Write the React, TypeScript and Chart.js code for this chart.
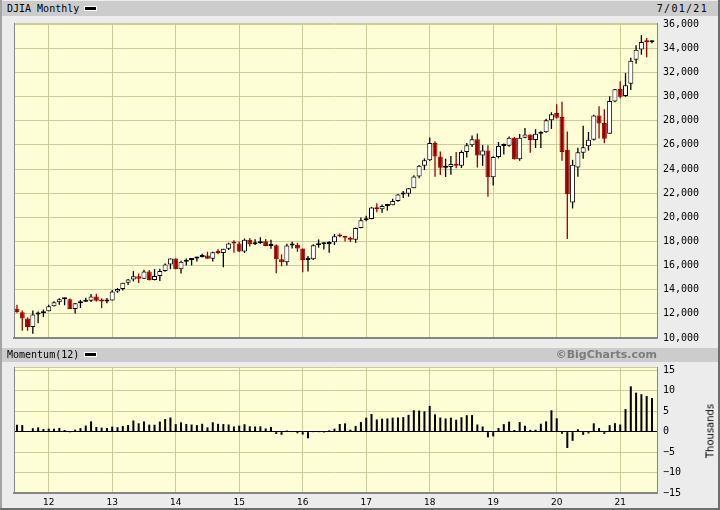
import React, { useEffect, useRef } from "react";
import { Chart, registerables } from "chart.js";

Chart.register(...registerables);

// ---------- DATA ----------
const months = [
  "2011-07", "2011-08", "2011-09", "2011-10", "2011-11", "2011-12",
  "2012-01", "2012-02", "2012-03", "2012-04", "2012-05", "2012-06", "2012-07", "2012-08", "2012-09", "2012-10", "2012-11", "2012-12",
  "2013-01", "2013-02", "2013-03", "2013-04", "2013-05", "2013-06", "2013-07", "2013-08", "2013-09", "2013-10", "2013-11", "2013-12",
  "2014-01", "2014-02", "2014-03", "2014-04", "2014-05", "2014-06", "2014-07", "2014-08", "2014-09", "2014-10", "2014-11", "2014-12",
  "2015-01", "2015-02", "2015-03", "2015-04", "2015-05", "2015-06", "2015-07", "2015-08", "2015-09", "2015-10", "2015-11", "2015-12",
  "2016-01", "2016-02", "2016-03", "2016-04", "2016-05", "2016-06", "2016-07", "2016-08", "2016-09", "2016-10", "2016-11", "2016-12",
  "2017-01", "2017-02", "2017-03", "2017-04", "2017-05", "2017-06", "2017-07", "2017-08", "2017-09", "2017-10", "2017-11", "2017-12",
  "2018-01", "2018-02", "2018-03", "2018-04", "2018-05", "2018-06", "2018-07", "2018-08", "2018-09", "2018-10", "2018-11", "2018-12",
  "2019-01", "2019-02", "2019-03", "2019-04", "2019-05", "2019-06", "2019-07", "2019-08", "2019-09", "2019-10", "2019-11", "2019-12",
  "2020-01", "2020-02", "2020-03", "2020-04", "2020-05", "2020-06", "2020-07", "2020-08", "2020-09", "2020-10", "2020-11", "2020-12",
  "2021-01", "2021-02", "2021-03", "2021-04", "2021-05", "2021-06", "2021-07",
];

const opens = [
  12414, 12143, 11614, 10913, 11955, 12046,
  12218, 12633, 12952, 13212, 13214, 12393, 12880, 13009, 13091, 13437, 13096, 13026,
  13104, 13861, 14054, 14579, 14840, 15116, 14910, 15500, 14810, 15130, 15546, 16086,
  16577, 15699, 16322, 16458, 16581, 16717, 16827, 16563, 17098, 17043, 17391, 17828,
  17823, 17165, 18133, 17776, 17841, 18011, 17620, 17690, 16528, 16285, 17664, 17720,
  17425, 16466, 16517, 17685, 17774, 17787, 17930, 18432, 18401, 18308, 18142, 19124,
  19763, 19864, 20812, 20663, 20941, 21009, 21350, 21891, 21948, 22405, 23377, 24272,
  24719, 26149, 25029, 24103, 24163, 24416, 24271, 25415, 25965, 26458, 25116, 25538,
  23327, 24999, 25916, 25929, 26593, 24815, 26600, 26864, 26403, 26917, 27046, 28051,
  28638, 28319, 25591, 21227, 24120, 25342, 25879, 26419, 28439, 27816, 26925, 29598,
  30627, 30054, 31065, 33054, 33904, 34584, 34507,
];

const highs = [
  12753, 12285, 11717, 12284, 12188, 12361,
  12756, 13055, 13290, 13338, 13279, 12898, 13159, 13331, 13653, 13662, 13290, 13305,
  13969, 14150, 14586, 14888, 15542, 15341, 15658, 15643, 15710, 15742, 16174, 16588,
  16589, 16398, 16589, 16632, 16736, 16978, 17152, 17153, 17350, 17395, 17895, 18103,
  18000, 18244, 18289, 18175, 18351, 18208, 18138, 17746, 16934, 17799, 17978, 17888,
  17425, 16795, 17773, 18168, 17935, 18016, 18622, 18668, 18450, 18399, 19152, 19988,
  20125, 20852, 21170, 21071, 21113, 21536, 21930, 22179, 22420, 23485, 24328, 24877,
  26617, 26307, 25449, 24858, 25087, 25402, 25547, 26167, 26770, 26951, 25980, 25981,
  25056, 26241, 26110, 26696, 26661, 26907, 27399, 26864, 27306, 27123, 28175, 28702,
  29374, 29568, 27102, 24764, 25758, 27580, 27072, 28502, 29199, 28958, 30025, 30637,
  31272, 31962, 33227, 34257, 35091, 34849, 34641,
];

const lows = [
  12087, 10604, 10597, 10362, 11232, 11735,
  12217, 12600, 12746, 12711, 12398, 12035, 12492, 12978, 12990, 13016, 12471, 12884,
  13104, 13744, 13937, 14398, 14688, 14551, 14910, 14760, 14777, 14719, 15484, 15703,
  15699, 15340, 16016, 16015, 16334, 16675, 16563, 16333, 16945, 15855, 17284, 17068,
  17136, 17037, 17585, 17699, 17797, 17597, 17399, 15370, 15942, 16013, 17410, 17139,
  15450, 15503, 16465, 17484, 17331, 17063, 17713, 18355, 17992, 17959, 17884, 19098,
  19677, 19831, 20413, 20379, 20554, 21009, 21279, 21600, 21709, 22405, 23243, 23922,
  24660, 23360, 23509, 23345, 23532, 24074, 24085, 24965, 25822, 24123, 24268, 21713,
  22638, 24883, 25208, 25850, 24780, 24680, 26550, 25339, 25743, 25744, 27004, 27325,
  28170, 24681, 18213, 20735, 23361, 24843, 25524, 26365, 26537, 26144, 26925, 29540,
  29856, 29981, 30547, 32731, 33474, 33271, 34418,
];

const closes = [
  12143, 11614, 10913, 11955, 12046, 12218,
  12633, 12952, 13212, 13214, 12393, 12880, 13009, 13091, 13437, 13096, 13026, 13104,
  13861, 14054, 14579, 14840, 15116, 14910, 15500, 14810, 15130, 15546, 16086, 16577,
  15699, 16322, 16458, 16581, 16717, 16827, 16563, 17098, 17043, 17391, 17828, 17823,
  17165, 18133, 17776, 17841, 18011, 17620, 17690, 16528, 16285, 17664, 17720, 17425,
  16466, 16517, 17685, 17774, 17787, 17930, 18432, 18401, 18308, 18142, 19124, 19763,
  19864, 20812, 20663, 20941, 21009, 21350, 21891, 21948, 22405, 23377, 24272, 24719,
  26149, 25029, 24103, 24163, 24416, 24271, 25415, 25965, 26458, 25116, 25538, 23327,
  24999, 25916, 25929, 26593, 24815, 26600, 26864, 26403, 26917, 27046, 28051, 28538,
  28256, 25409, 21917, 24346, 25383, 25813, 26428, 28430, 27782, 26502, 29639, 30606,
  29983, 30932, 32982, 33875, 34529, 34503, 34634,
];

// Momentum(12), thousands
const momentum = [
  1.68, 1.6, 0.13, 0.84, 1.04, 0.64,
  0.74, 0.73, 0.89, 0.4, -0.18, 0.47, 0.87, 1.48, 2.52, 1.14, 0.98, 0.89,
  1.23, 1.1, 1.37, 1.63, 2.72, 2.03, 2.49, 1.72, 1.69, 2.45, 3.06, 3.47,
  1.84, 2.27, 1.88, 1.74, 1.6, 1.92, 1.06, 2.29, 1.91, 1.85, 1.74, 1.25,
  1.47, 1.81, 1.32, 1.26, 1.29, 0.79, 1.13, -0.57, -0.76, 0.27, -0.11, -0.4,
  -0.7, -1.62, -0.09, -0.07, -0.22, 0.31, 0.74, 1.87, 2.02, 0.48, 1.4, 2.34,
  3.4, 4.3, 2.98, 3.17, 3.22, 3.42, 3.46, 3.55, 4.1, 5.24, 5.15, 4.96,
  6.29, 4.22, 3.44, 3.22, 3.41, 2.92, 3.52, 4.02, 4.05, 1.74, 1.27, -1.39,
  -1.15, 0.89, 1.83, 2.43, 0.4, 2.33, 1.45, 0.44, 0.46, 1.93, 2.51, 5.21,
  3.26, -0.51, -4.01, -2.25, 0.57, -0.79, -0.44, 2.03, 0.87, -0.54, 1.59, 2.07,
  1.73, 5.52, 11.07, 9.53, 9.15, 8.69, 8.21,
];

const yearTickMonths = ["2012-01", "2013-01", "2014-01", "2015-01", "2016-01", "2017-01", "2018-01", "2019-01", "2020-01", "2021-01"];
const yearTickLabels = ["12", "13", "14", "15", "16", "17", "18", "19", "20", "21"];
const priceTicks = [10000, 12000, 14000, 16000, 18000, 20000, 22000, 24000, 26000, 28000, 30000, 32000, 34000, 36000];
const momentumTicks = [-15, -10, -5, 0, 5, 10, 15];

// ---------- STYLE ----------
const X_MIN = -0.56;
const X_MAX = 120.95;
const PLOT_BG = "#fefed6";
const GRID = "#cccc99";
const EDGE = "#858585";
const UP_FILL = "#ffffff";
const UP_LINE = "#000000";
const DOWN = "#990000";
const MONO = "'DejaVu Sans Mono', monospace";
const SANS = "'DejaVu Sans', sans-serif";

const yearTickValues = yearTickMonths.map((m) => months.indexOf(m));

const plotFrame = {
  id: "plotFrame",
  beforeDraw(chart: any) {
    const { ctx, chartArea } = chart;
    const { left, top, right, bottom } = chartArea;
    ctx.save();
    ctx.fillStyle = PLOT_BG;
    ctx.fillRect(left, top, right - left, bottom - top);
    ctx.restore();
  },
  afterDraw(chart: any) {
    const { ctx, chartArea } = chart;
    const { left, top, right, bottom } = chartArea;
    ctx.save();
    ctx.strokeStyle = GRID;
    ctx.lineWidth = 1;
    ctx.beginPath();
    ctx.moveTo(left, Math.round(top) + 0.5);
    ctx.lineTo(right, Math.round(top) + 0.5);
    ctx.stroke();
    ctx.strokeStyle = EDGE;
    ctx.beginPath();
    ctx.moveTo(Math.round(left) + 0.5, top);
    ctx.lineTo(Math.round(left) + 0.5, bottom);
    ctx.stroke();
    ctx.restore();
  },
};

function xScaleBase(showLabels: boolean) {
  return {
    type: "linear" as const,
    position: "bottom" as const,
    min: X_MIN,
    max: X_MAX,
    offset: false,
    grid: { color: GRID, lineWidth: 1, drawTicks: false, offset: false },
    border: { display: true, color: EDGE, width: 2 },
    afterBuildTicks: (scale: any) => {
      scale.ticks = yearTickValues.map((value) => ({ value }));
    },
    ticks: showLabels
      ? {
          display: true,
          autoSkip: false,
          maxRotation: 0,
          padding: 4,
          color: "#000",
          font: { family: SANS, size: 9 },
          callback: (_v: any, i: number) => yearTickLabels[i],
        }
      : { display: false },
  };
}

function PriceChart() {
  const ref = useRef<HTMLCanvasElement>(null);
  useEffect(() => {
    const bodyColorsFill = months.map((_, i) => (closes[i] >= opens[i] ? UP_FILL : DOWN));
    const bodyColorsLine = months.map((_, i) => (closes[i] >= opens[i] ? UP_LINE : DOWN));
    const wickColors = months.map((_, i) => (closes[i] >= opens[i] ? UP_LINE : DOWN));
    const chart = new Chart(ref.current!, {
      type: "bar",
      data: {
        datasets: [
          {
            label: "body",
            data: months.map((_, i) => ({ x: i, y: [opens[i], closes[i]] })) as any,
            backgroundColor: bodyColorsFill,
            borderColor: bodyColorsLine,
            borderWidth: 1,
            borderSkipped: false,
            barThickness: 5,
            minBarLength: 2,
            grouped: false,
            inflateAmount: 0,
          } as any,
          {
            label: "wick",
            data: months.map((_, i) => ({ x: i, y: [lows[i], highs[i]] })) as any,
            backgroundColor: wickColors,
            borderWidth: 0,
            barThickness: 1.3,
            grouped: false,
            inflateAmount: 0,
          } as any,
        ],
      },
      options: {
        animation: false,
        responsive: false,
        maintainAspectRatio: false,
        layout: { padding: { left: 14, top: 23, right: 0, bottom: 2 } },
        plugins: { legend: { display: false }, tooltip: { enabled: false } },
        scales: {
          x: {
            ...xScaleBase(false),
            afterFit: (s: any) => {
              s.height = 0;
            },
          } as any,
          y: {
            position: "right",
            min: 10000,
            max: 36100,
            grid: { color: GRID, lineWidth: 1, drawTicks: false },
            border: { display: true, color: EDGE, width: 1 },
            afterBuildTicks: (scale: any) => {
              scale.ticks = priceTicks.map((value) => ({ value }));
            },
            afterFit: (s: any) => {
              s.width = 63;
            },
            ticks: {
              padding: 6,
              color: "#000",
              font: { family: MONO, size: 10 },
              callback: (v: any) => Number(v).toLocaleString("en-US"),
            },
          } as any,
        },
      },
      plugins: [plotFrame],
    });
    return () => chart.destroy();
  }, []);
  return (
    <canvas
      ref={ref}
      width={720}
      height={350}
      style={{ position: "absolute", left: 0, top: 0, width: 720, height: 350 }}
    />
  );
}

function MomentumChart() {
  const ref = useRef<HTMLCanvasElement>(null);
  useEffect(() => {
    const chart = new Chart(ref.current!, {
      type: "bar",
      data: {
        datasets: [
          {
            label: "Momentum(12)",
            data: months.map((_, i) => ({ x: i, y: momentum[i] })) as any,
            backgroundColor: "#000",
            borderWidth: 0,
            barThickness: 2,
            inflateAmount: 0,
          } as any,
        ],
      },
      options: {
        animation: false,
        responsive: false,
        maintainAspectRatio: false,
        layout: { padding: { left: 14, top: 22, right: 0, bottom: 0 } },
        plugins: { legend: { display: false }, tooltip: { enabled: false } },
        scales: {
          x: {
            ...xScaleBase(true),
            afterFit: (s: any) => {
              s.height = 17;
            },
          } as any,
          y: {
            position: "right",
            min: -15,
            max: 15.8,
            grid: {
              drawTicks: false,
              lineWidth: 1,
              color: (c: any) => (c.tick && c.tick.value === 0 ? "#000" : GRID),
            },
            border: { display: true, color: EDGE, width: 1 },
            afterBuildTicks: (scale: any) => {
              scale.ticks = momentumTicks.map((value) => ({ value }));
            },
            afterFit: (s: any) => {
              s.width = 63;
            },
            ticks: {
              padding: 6,
              color: "#000",
              font: { family: MONO, size: 10 },
              callback: (v: any) => (Number(v) < 0 ? "\u2212" + Math.abs(Number(v)) : String(v)),
            },
          } as any,
        },
      },
      plugins: [plotFrame],
    });
    return () => chart.destroy();
  }, []);
  return (
    <canvas
      ref={ref}
      width={720}
      height={165}
      style={{ position: "absolute", left: 0, top: 345, width: 720, height: 165 }}
    />
  );
}

const headerText: React.CSSProperties = {
  position: "absolute",
  fontFamily: MONO,
  fontSize: 10,
  color: "#000",
  whiteSpace: "nowrap",
};

export default function App() {
  useEffect(() => {
    document.body.style.margin = "0";
  }, []);
  return (
    <div
      style={{
        position: "absolute",
        left: 0,
        top: 0,
        width: 720,
        height: 510,
        background: "#ececec",
        overflow: "hidden",
      }}
    >
      {/* frame edges */}
      <div style={{ position: "absolute", left: 0, top: 0, width: 2, height: 510, background: "#a4a4a4" }} />
      <div style={{ position: "absolute", left: 718, top: 0, width: 2, height: 510, background: "#6e6e6e" }} />
      <div style={{ position: "absolute", left: 0, top: 508, width: 720, height: 2, background: "#6e6e6e" }} />

      {/* top header */}
      <div style={{ position: "absolute", left: 2, top: 1, width: 716, height: 15, background: "#cccccc" }} />
      <div style={{ ...headerText, left: 7, top: 1, lineHeight: "15px" }}>DJIA Monthly</div>
      <div
        style={{
          position: "absolute",
          left: 84,
          top: 6,
          width: 13,
          height: 5,
          background: "#000",
          border: "1px solid #fff",
          boxSizing: "border-box",
        }}
      />
      <div style={{ ...headerText, right: 12, top: 1, lineHeight: "15px", letterSpacing: "1.3px" }}>7/01/21</div>

      <PriceChart />

      {/* momentum header */}
      <div style={{ position: "absolute", left: 2, top: 348, width: 716, height: 14, background: "#cccccc" }} />
      <div style={{ ...headerText, left: 7, top: 348, lineHeight: "14px" }}>Momentum(12)</div>
      <div
        style={{
          position: "absolute",
          left: 84,
          top: 352,
          width: 13,
          height: 5,
          background: "#000",
          border: "1px solid #fff",
          boxSizing: "border-box",
        }}
      />
      <div
        style={{
          position: "absolute",
          right: 63,
          top: 348,
          lineHeight: "14px",
          fontFamily: SANS,
          fontWeight: "bold",
          fontSize: 11,
          color: "#7c7c7c",
          whiteSpace: "nowrap",
        }}
      >
        ©BigCharts.com
      </div>

      <MomentumChart />

      {/* right axis title */}
      <div
        style={{
          position: "absolute",
          left: 710,
          top: 431,
          transform: "translate(-50%, -50%) rotate(-90deg)",
          fontFamily: SANS,
          fontSize: 10,
          color: "#000",
          whiteSpace: "nowrap",
        }}
      >
        Thousands
      </div>
    </div>
  );
}
